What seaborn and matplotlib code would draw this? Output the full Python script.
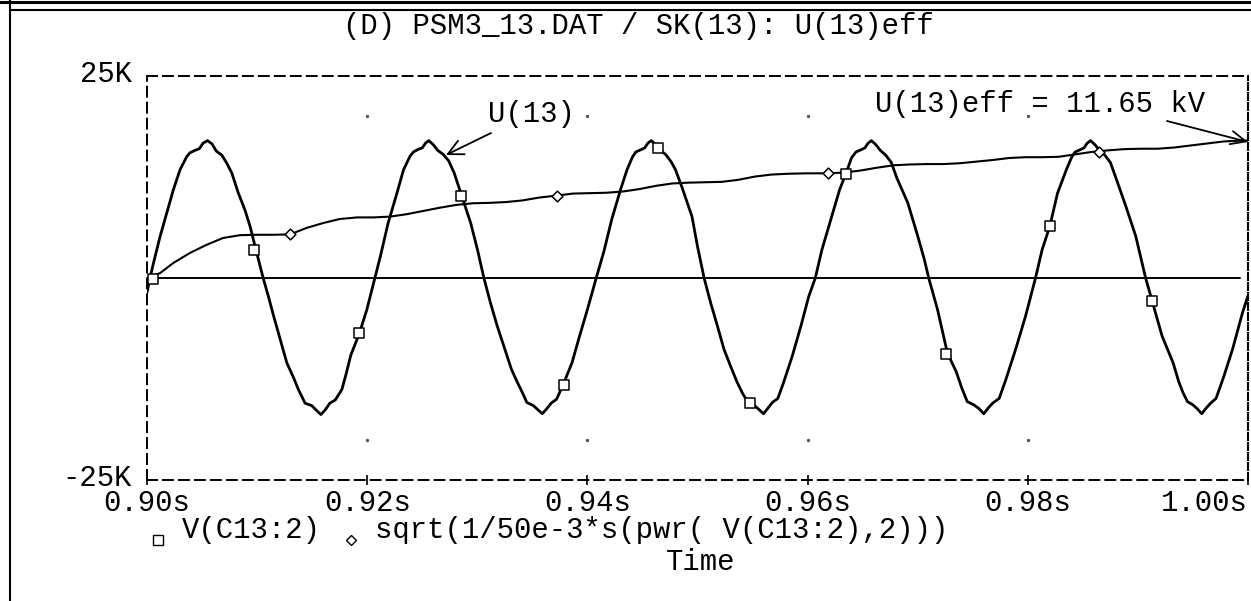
import numpy as np
import pandas as pd
import matplotlib
matplotlib.use("Agg")
import matplotlib.pyplot as plt
import matplotlib.transforms as mtransforms
import seaborn as sns
from matplotlib.lines import Line2D

# ---------------- data ----------------
# V(C13:2): time in ms after 0.90 s, voltage in kV
wave_t_ms = [0.0, 0.27, 0.58, 1.18, 1.79, 2.39, 3.0, 3.6, 3.9, 4.36, 4.75, 5.1, 5.5, 5.9, 6.3, 6.8, 7.25, 7.7,
             8.3, 8.9, 9.36, 9.82, 10.55, 11.03, 11.5, 12.1, 12.7, 13.3, 13.75, 14.36, 14.97, 15.4, 15.8, 16.2,
             16.6, 17.1, 17.7, 18.1, 18.5, 19.3, 19.97, 20.7, 21.2, 21.9, 22.7, 23.3, 23.9, 24.2, 24.6, 25.0,
             25.3, 25.6, 26.0, 26.4, 26.9, 27.4, 27.9, 28.6, 29.4, 30.0, 30.6, 31.2, 31.8, 32.5, 33.1, 33.6,
             34.1, 34.5, 35.1, 35.5, 35.9, 36.3, 36.7, 37.2, 37.8, 38.6, 39.2, 40.0, 40.8, 41.5, 42.2, 43.0,
             43.6, 44.1, 44.4, 44.9, 45.2, 45.5, 45.8, 46.2, 46.6, 47.1, 47.6, 48.0, 48.6, 49.5, 50.0, 50.6,
             51.2, 51.8, 52.4, 53.0, 53.6, 54.1, 54.6, 55.1, 55.6, 56.0, 56.4, 56.8, 57.3, 57.8, 58.6, 59.4,
             60.1, 60.7, 61.3, 62.1, 62.9, 63.5, 64.0, 64.4, 64.9, 65.2, 65.5, 65.8, 66.2, 66.6, 67.1, 67.6,
             68.1, 69.1, 70.0, 70.6, 71.0, 71.8, 72.7, 73.5, 74.0, 74.5, 75.1, 75.6, 76.0, 76.4, 76.8, 77.4,
             78.0, 78.9, 79.8, 80.7, 81.3, 82.0, 82.7, 83.5, 84.0, 84.3, 84.8, 85.1, 85.4, 85.7, 86.1, 86.5,
             87.0, 87.5, 88.0, 88.9, 89.8, 90.7, 91.3, 92.2, 93.2, 93.7, 94.1, 94.5, 95.0, 95.4, 95.8, 96.2,
             96.6, 97.1, 97.8, 98.6, 99.5, 100.0]
wave_kv = [-1.8, 0.0, 1.8, 5.1, 8.0, 10.9, 13.4, 15.0, 15.5, 15.8, 16.0, 16.7, 17.0, 16.6, 15.7, 15.2, 14.2, 13.0,
           10.5, 8.4, 6.4, 3.9, 0.0, -2.3, -4.7, -7.6, -10.5, -12.3, -13.8, -15.5, -15.8, -16.4, -16.9, -16.3,
           -15.5, -15.1, -13.8, -11.8, -9.6, -6.8, -3.9, 0.0, 2.7, 6.8, 10.5, 13.4, 15.1, 15.6, 15.9, 16.1,
           16.7, 17.0, 16.5, 15.8, 15.3, 14.5, 13.0, 10.1, 6.8, 3.6, 0.0, -3.1, -5.9, -8.8, -11.3, -12.8,
           -14.2, -15.4, -15.8, -16.3, -16.8, -16.2, -15.5, -15.0, -13.2, -10.5, -7.6, -3.9, 0.0, 3.3, 7.2, 10.9,
           13.4, 15.0, 15.6, 15.9, 16.1, 16.7, 17.0, 16.5, 15.8, 15.3, 14.4, 13.4, 11.2, 7.6, 3.9, 0.0,
           -3.1, -5.9, -8.8, -10.9, -12.9, -14.3, -15.4, -15.7, -16.3, -16.8, -16.1, -15.4, -14.9, -13.0, -9.7, -5.9,
           -2.3, 0.0, 3.5, 7.2, 10.9, 13.0, 14.9, 15.6, 15.9, 16.1, 16.7, 17.0, 16.5, 15.8, 15.2, 14.3,
           12.4, 9.3, 5.2, 2.3, 0.0, -3.9, -9.3, -11.6, -13.6, -15.3, -15.7, -16.2, -16.8, -16.1, -15.5, -14.9,
           -12.6, -8.8, -4.7, 0.0, 3.5, 6.4, 10.5, 13.4, 15.0, 15.6, 15.9, 16.1, 16.7, 17.0, 16.5, 15.8,
           15.2, 14.3, 12.4, 8.9, 5.2, 0.0, -2.9, -7.2, -10.5, -12.8, -14.2, -15.3, -15.7, -16.2, -16.8, -16.1,
           -15.5, -14.9, -12.2, -8.8, -4.3, -2.2]

# sqrt(1/50e-3*s(pwr(V(C13:2),2))): time in ms after 0.90 s, value in kV
rms_t_ms = [0.0, 1.18, 2.39, 3.9, 5.4, 6.9, 8.45, 10.0, 11.5, 13.0, 14.5, 16.0, 17.5, 19.1, 20.6, 22.1, 23.6,
            25.1, 26.6, 28.1, 29.6, 31.1, 32.6, 34.1, 35.6, 37.2, 38.7, 40.2, 41.7, 43.2, 44.7, 46.2, 47.7,
            49.2, 50.7, 52.2, 53.7, 55.2, 56.7, 58.2, 59.7, 61.9, 63.3, 64.8, 66.3, 67.8, 69.3, 70.8, 72.3,
            73.8, 75.3, 76.8, 78.3, 79.8, 81.3, 82.8, 84.3, 85.8, 87.3, 88.8, 90.3, 91.8, 93.3, 94.8, 96.3,
            97.8, 99.3, 100.0]
rms_kv = [0.0, 0.6, 1.86, 3.1, 4.1, 4.95, 5.3, 5.35, 5.35, 5.4, 6.2, 6.8, 7.3, 7.5, 7.5, 7.6, 7.9,
          8.3, 8.7, 9.05, 9.25, 9.3, 9.4, 9.6, 9.95, 10.2, 10.45, 10.5, 10.55, 10.7, 11.0, 11.4, 11.7,
          11.8, 11.85, 11.9, 12.15, 12.55, 12.8, 12.9, 12.95, 12.96, 13.05, 13.3, 13.65, 13.95, 14.05, 14.1, 14.1,
          14.2, 14.4, 14.6, 14.85, 14.95, 14.95, 15.0, 15.3, 15.6, 15.8, 15.95, 16.0, 16.0, 16.15, 16.4, 16.65,
          16.9, 17.0, 17.0]

# trace markers
square_t_ms = [0.52, 9.76, 19.3, 28.5, 37.85, 46.4, 54.8, 63.5, 72.6, 82.0, 91.3]
square_kv = [-0.1, 3.5, -6.8, 10.2, -13.2, 16.1, -15.5, 12.9, -9.4, 6.4, -2.8]
diamond_t_ms = [13.0, 37.2, 61.85, 86.5]
diamond_kv = [5.4, 10.2, 13.0, 15.55]

x_ticks = [0.90, 0.92, 0.94, 0.96, 0.98, 1.00]
x_tick_labels = ["0.90s", "0.92s", "0.94s", "0.96s", "0.98s", "1.00s"]
y_ticks = [-25, 25]
y_tick_labels = ["-25K", "25K"]
grid_dot_y = [-20, 20]

title = "(D) PSM3_13.DAT / SK(13): U(13)eff"
legend_1 = "V(C13:2)"
legend_2 = "sqrt(1/50e-3*s(pwr( V(C13:2),2)))"
x_label = "Time"
note_u = "U(13)"
note_eff = "U(13)eff = 11.65 kV"

# ---------------- style ----------------
sns.set_theme(style="white")
plt.rcParams["font.family"] = ["Liberation Mono", "DejaVu Sans"]
plt.rcParams["lines.scale_dashes"] = False
FS = 20.8

W, H = 1251, 601
fig = plt.figure(figsize=(W / 100, H / 100), dpi=100)
fig.patch.set_facecolor("white")
ax = fig.add_axes([147 / W, 121 / H, 1101 / W, 404 / H])
ax.set_facecolor("white")

df_wave = pd.DataFrame({"time": 0.9 + np.array(wave_t_ms) / 1000.0, "kv": wave_kv})
df_rms = pd.DataFrame({"time": 0.9 + np.array(rms_t_ms) / 1000.0, "kv": rms_kv})

ax.axhline(0, xmin=0, xmax=0.993, color="black", lw=1.4, zorder=1)
sns.lineplot(data=df_wave, x="time", y="kv", ax=ax, color="black", linewidth=2.0,
             estimator=None, sort=False, zorder=3)
sns.lineplot(data=df_rms, x="time", y="kv", ax=ax, color="black", linewidth=1.5,
             estimator=None, sort=False, zorder=3)

ax.scatter(0.9 + np.array(square_t_ms) / 1000.0, square_kv, marker="s", s=55,
           facecolors="white", edgecolors="black", linewidths=1.1, zorder=5)
ax.scatter(0.9 + np.array(diamond_t_ms) / 1000.0, diamond_kv, marker="D", s=30,
           facecolors="white", edgecolors="black", linewidths=1.1, zorder=5)

gx, gy = np.meshgrid(x_ticks[1:-1], grid_dot_y)
ax.scatter(gx.ravel(), gy.ravel(), s=2, color="#555555", zorder=2)

ax.set_xlim(0.90, 1.00)
ax.set_ylim(-25, 25)
ax.set_xticks(x_ticks)
ax.set_xticklabels(x_tick_labels)
ax.set_yticks(y_ticks)
ax.set_yticklabels(y_tick_labels)
ax.set_xlabel("")
ax.set_ylabel("")
ax.tick_params(axis="x", direction="inout", length=7, width=1.2, pad=3, labelsize=FS,
               colors="black", bottom=True)
ax.tick_params(axis="y", direction="in", length=5, width=1.2, pad=11, labelsize=FS,
               colors="black", left=True)

# y labels sit a few pixels above their ticks; last x label ends at the frame
up = mtransforms.ScaledTranslation(0, 5 / 100, fig.dpi_scale_trans)
for lab in ax.get_yticklabels():
    lab.set_transform(lab.get_transform() + up)
ax.get_xticklabels()[-1].set_horizontalalignment("right")

for side in ["top", "bottom", "left"]:
    ax.spines[side].set_linestyle((0, (7.2, 4.3)))
    ax.spines[side].set_linewidth(1.4)
    ax.spines[side].set_color("black")
ax.spines["right"].set_linestyle((0, (5.0, 2.2)))
ax.spines["right"].set_linewidth(1.5)
ax.spines["right"].set_color("black")

# annotations
ax.text((488 - 147) / 1101, 1 - (122 - 76) / 404, note_u, transform=ax.transAxes,
        fontsize=FS, ha="left", va="baseline", color="black")
ax.text((875 - 147) / 1101, 1 - (112 - 76) / 404, note_eff, transform=ax.transAxes,
        fontsize=FS, ha="left", va="baseline", color="black")
ax.annotate("", xy=(446, H - 155), xycoords="figure pixels", xytext=(491, H - 133),
            textcoords="figure pixels",
            arrowprops=dict(arrowstyle="->,head_length=0.9,head_width=0.45", lw=1.3, color="black",
                            shrinkA=0, shrinkB=0))
ax.annotate("", xy=(1248, H - 142), xycoords="figure pixels", xytext=(1167, H - 121),
            textcoords="figure pixels",
            arrowprops=dict(arrowstyle="->,head_length=0.9,head_width=0.4", lw=1.3, color="black",
                            shrinkA=0, shrinkB=0))

# title, legend row, axis label
fig.text(343 / W, 1 - 34 / H, title, fontsize=FS, ha="left", va="baseline", color="black")
fig.add_artist(Line2D([158 / W], [1 - 540 / H], transform=fig.transFigure, marker="s", markersize=7,
                      markerfacecolor="white", markeredgecolor="black", markeredgewidth=1.0, linestyle="none"))
fig.text(182 / W, 1 - 538 / H, legend_1, fontsize=FS, ha="left", va="baseline", color="black")
fig.add_artist(Line2D([351 / W], [1 - 540 / H], transform=fig.transFigure, marker="D", markersize=5,
                      markerfacecolor="white", markeredgecolor="black", markeredgewidth=1.0, linestyle="none"))
fig.text(375 / W, 1 - 538 / H, legend_2, fontsize=FS, ha="left", va="baseline", color="black")
fig.text(701 / W, 1 - 570 / H, x_label, fontsize=FS, ha="center", va="baseline", color="black")

# page frame
fig.add_artist(Line2D([0, 1], [1 - 1.5 / H, 1 - 1.5 / H], transform=fig.transFigure, color="black", lw=2.2))
fig.add_artist(Line2D([9.5 / W, 1], [1 - 9.5 / H, 1 - 9.5 / H], transform=fig.transFigure, color="black", lw=1.5))
fig.add_artist(Line2D([9.5 / W, 9.5 / W], [0, 1], transform=fig.transFigure, color="black", lw=1.5))

fig.savefig("out.png", dpi=100, facecolor="white")
